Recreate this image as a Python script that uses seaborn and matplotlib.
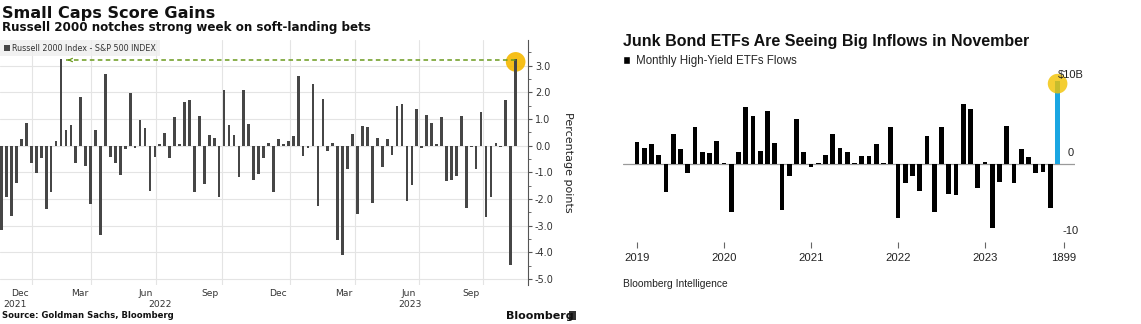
import numpy as np
import pandas as pd
import matplotlib
matplotlib.use("Agg")
import matplotlib.pyplot as plt
import seaborn as sns
from matplotlib.patches import Patch, Rectangle
from matplotlib.transforms import ScaledTranslation

# ---------------- data: left panel (weekly Russell 2000 minus S&P 500, pct points)
rut_minus_spx = [
    -3.16, -1.94, -2.63, -1.38, 0.24, 0.85, -0.66, -1.04, -0.48, -2.39,
    -1.74, 0.16, 3.24, 0.58, 0.76, -0.66, 1.84, -0.76, -2.19, 0.59,
    -3.35, 2.70, -0.44, -0.66, -1.09, -0.13, 1.99,
    -0.07, 0.96, 0.68, -1.69, -0.41, 0.06, 0.48, -0.48, 1.06, 0.08,
    1.63, 1.71, -1.73, 1.13, -1.45, 0.40, 0.28, -1.94, 2.08, 0.76,
    0.41, -1.16, 2.09, 0.81, -1.29, -1.06, -0.48,
    0.11, -1.73, 0.24, 0.05, 0.18, 0.35, 2.61, -0.38, -0.08, 2.30,
    -2.25, 1.74, -0.19, 0.09, -3.54, -4.08, -0.86, 0.43, -2.56, 0.74,
    0.69, -2.14, 0.30, -0.78, 0.25, -0.35,
    1.47, 1.55, -2.06, -1.48, 1.36, -0.10, 1.16, 0.84, 0.08, 1.08,
    -1.34, -1.29, -1.13, 1.13, -2.33, -0.05, -0.88, 1.26, -2.69, -1.91,
    0.11, -0.06, 1.73, -4.48, 3.24,
]
week_index = list(range(len(rut_minus_spx)))
left_tick_pos = [6.05, 18.08, 31.23, 44.6, 58.36, 71.5, 84.5, 97.4]
left_month_labels = ["Dec", "Mar", "Jun", "Sep", "Dec", "Mar", "Jun", "Sep"]
left_year_pos = [2.7, 32.0, 82.6]
left_year_labels = ["2021", "2022", "2023"]
left_yticks = [3, 2, 1, 0, -1, -2, -3, -4, -5]
left_ytick_labels = ["3.0", "2.0", "1.0", "0.0", "-1.0", "-2.0", "-3.0", "-4.0", "-5.0"]

# ---------------- data: right panel (monthly high-yield ETF flows, $B)
hy_flows = [
    2.8, 2.0, 2.5, 1.1, -3.6, 3.9, 1.9, -1.1, 4.7, 1.6,
    1.4, 2.9, 0.1, -6.2, 1.5, 7.3, 6.2, 1.7, 6.8, 2.7,
    -5.9, -1.5, 5.8, 1.6, -0.4, 0.1, 1.2, 3.9, 2.1, 1.6,
    0.1, 1.0, 1.0, 2.5, 0.1, 4.7, -6.9, -2.4, -1.6, -3.4,
    3.6, -6.1, 4.7, -3.8, -4.0, 7.7, 7.0, -3.1, 0.3, -8.2,
    -2.3, 4.9, -2.5, 1.9, 0.9, -1.2, -1.0, -5.6, 10.6,
]
months = list(pd.date_range("2019-01-01", periods=len(hy_flows), freq="MS").strftime("%Y-%m"))
right_tick_pos = [0, 12, 24, 36, 48, 58.9]
right_tick_labels = ["2019", "2020", "2021", "2022", "2023", "1899"]
right_yticks = [10, 0, -10]
right_ytick_labels = [r"\$10B", "0", "-10"]

# ---------------- figure
sns.set_style("white")
plt.rcParams["font.family"] = ["DejaVu Sans"]
W, H = 1141, 324
fig = plt.figure(figsize=(W / 100, H / 100), dpi=100)


def rect(x0, y0, x1, y1):
    return [x0 / W, 1 - y1 / H, (x1 - x0) / W, (y1 - y0) / H]


# ======== LEFT PANEL ========
ax1 = fig.add_axes(rect(0, 40, 528, 285))
dfl = pd.DataFrame({"week": week_index, "diff": rut_minus_spx})
sns.barplot(data=dfl, x="week", y="diff", color="#464646", saturation=1,
            width=0.55, errorbar=None, linewidth=0, ax=ax1, zorder=3)
ax1.set_xlim(-0.34, 106.5)
ax1.set_ylim(-5.22, 3.96)
ax1.set_xlabel("")
ax1.set_ylabel("")

ax1.yaxis.tick_right()
ax1.set_yticks(left_yticks)
ax1.set_yticklabels(left_ytick_labels)
ax1.set_yticks(np.arange(-4.5, 4.0, 1.0), minor=True)
ax1.tick_params(axis="y", which="major", length=3, width=0.8, color="#555555",
                labelsize=7, labelcolor="#333333", pad=2, right=True, left=False)
ax1.tick_params(axis="y", which="minor", length=2, width=0.6, color="#555555",
                right=True, left=False)

ax1.set_xticks(left_tick_pos)
ax1.set_xticklabels(left_month_labels)
ax1.tick_params(axis="x", length=0, labelsize=6.6, labelcolor="#333333", pad=3)
for lab in ax1.get_xticklabels():
    lab.set_ha("right")
    lab.set_transform(lab.get_transform() + ScaledTranslation(-3 / 100, 0, fig.dpi_scale_trans))
for pos, yl in zip(left_year_pos, left_year_labels):
    ax1.annotate(yl, xy=(pos, 0), xycoords=("data", "axes fraction"),
                 xytext=(0, -14), textcoords="offset points", ha="center", va="center",
                 fontsize=6.6, color="#333333")

ax1.grid(True, axis="both", which="major", color="#e4e4e4", lw=0.8)
ax1.set_axisbelow(True)
for s in ["top", "left", "bottom"]:
    ax1.spines[s].set_visible(False)
ax1.spines["right"].set_color("#555555")
ax1.spines["right"].set_linewidth(0.8)

ax1.yaxis.set_label_position("right")
ax1.set_ylabel("Percentage points", rotation=270, fontsize=8, color="#222222", labelpad=14)

last = len(rut_minus_spx) - 1
level = rut_minus_spx[last]
prev_idx = int(np.argmax(rut_minus_spx[:last]))
ax1.plot([prev_idx + 1.0, last], [level - 0.03, level - 0.03], ls=(0, (3, 2.2)),
         color="#6a9a1c", lw=1.1, zorder=4)
ax1.annotate("", xy=(prev_idx + 0.8, level - 0.03), xytext=(prev_idx + 2.2, level - 0.03),
             arrowprops=dict(arrowstyle="->", color="#6a9a1c", lw=0.9, mutation_scale=6),
             zorder=4)
ax1.scatter([last], [level - 0.1], s=200, color="#f5b800", alpha=0.9, zorder=2,
            edgecolors="none")

leg = ax1.legend(handles=[Patch(facecolor="#464646", edgecolor="none",
                                label="Russell 2000 Index - S&P 500 INDEX")],
                 loc="upper left", bbox_to_anchor=(0, 1), borderaxespad=0,
                 fontsize=5.8, frameon=True, fancybox=False, handlelength=0.75,
                 handleheight=0.75, handletextpad=0.35, borderpad=0.45)
leg.get_frame().set_facecolor("#eeeeee")
leg.get_frame().set_edgecolor("none")
for t in leg.get_texts():
    t.set_color("#333333")

fig.text(2 / W, 1 - 18 / H, "Small Caps Score Gains", fontsize=11.6,
         fontweight="bold", va="baseline", color="#111111")
fig.text(2 / W, 1 - 31 / H, "Russell 2000 notches strong week on soft-landing bets",
         fontsize=8.6, fontweight="bold", va="baseline", color="#111111")
fig.text(2 / W, 1 - 315 / H, "Source: Goldman Sachs, Bloomberg", fontsize=6.1,
         fontweight="bold", va="center", color="#111111")
fig.text(506 / W, 1 - 316 / H, "Bloomberg", fontsize=8, fontweight="bold",
         va="center", color="#111111")
fig.patches.append(Rectangle((569 / W, 1 - 320 / H), 7 / W, 9 / H,
                             transform=fig.transFigure, facecolor="#333333",
                             edgecolor="none"))

# ======== RIGHT PANEL ========
ax2 = fig.add_axes(rect(623, 70, 1075, 242))
dfr = pd.DataFrame({"month": months, "flow": hy_flows,
                    "latest": [False] * (len(hy_flows) - 1) + [True]})
sns.barplot(data=dfr, x="month", y="flow", hue="latest",
            palette={False: "#000000", True: "#1aa6e2"}, dodge=False, saturation=1,
            width=0.65, errorbar=None, linewidth=0, legend=False, ax=ax2, zorder=3)
ax2.set_xlim(-1.93, 60.4)
ax2.set_ylim(-10.0, 12.05)
ax2.set_xlabel("")
ax2.set_ylabel("")
ax2.axhline(0, color="#9a9a9a", lw=0.9, zorder=2)
for s in ax2.spines.values():
    s.set_visible(False)
ax2.set_yticks([])
ax2.set_xticks(right_tick_pos)
ax2.set_xticklabels(right_tick_labels, family="Liberation Sans")
ax2.tick_params(axis="x", bottom=True, length=4, width=0.8, color="#666666",
                labelsize=8.1, labelcolor="#222222", pad=4)
for val, lab in zip(right_yticks, right_ytick_labels):
    ax2.annotate(lab, xy=(1, val), xycoords=("axes fraction", "data"),
                 xytext=(-3, 8), textcoords="offset points", ha="center", va="center",
                 fontsize=8, family="Liberation Sans", color="#222222", zorder=6)
n = len(hy_flows)
ax2.scatter([n - 1], [hy_flows[-1] - 0.3], s=200, color="#f2c200", alpha=0.8,
            zorder=4, edgecolors="none")

ax2.legend(handles=[Patch(facecolor="black", label="Monthly High-Yield ETFs Flows")],
           loc="center left", bbox_to_anchor=(623 / W, 1 - 61 / H),
           bbox_transform=fig.transFigure, frameon=False,
           prop={"family": "Liberation Sans", "size": 8.3},
           handlelength=0.6, handleheight=0.6, handletextpad=0.5,
           borderpad=0, borderaxespad=0)

fig.text(623 / W, 1 - 46 / H, "Junk Bond ETFs Are Seeing Big Inflows in November",
         fontsize=11.5, fontweight="bold", family="Liberation Sans", va="baseline",
         color="#111111")
fig.text(623 / W, 1 - 284 / H, "Bloomberg Intelligence", fontsize=7.4,
         family="Liberation Sans", va="center", color="#222222")

fig.savefig("out.png", dpi=100)
